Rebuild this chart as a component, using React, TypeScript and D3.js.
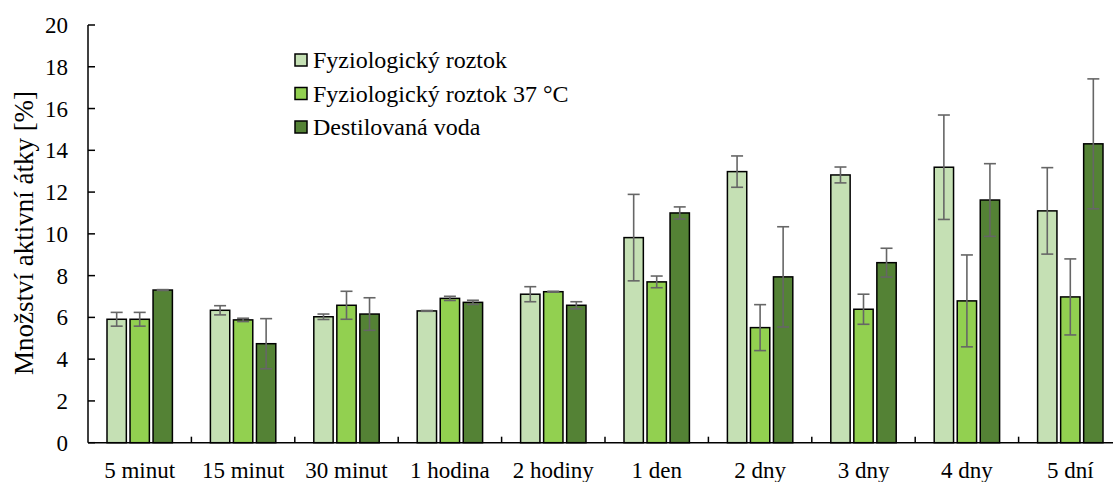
import React from "react";
import * as d3 from "d3";

const categories = ["5 minut", "15 minut", "30 minut", "1 hodina", "2 hodiny", "1 den", "2 dny", "3 dny", "4 dny", "5 dní"];
const seriesNames = ["Fyziologický roztok", "Fyziologický roztok 37 °C", "Destilovaná voda"];
const seriesColors = ["#c5e0b4", "#92d050", "#548235"];
const fyzValues = [5.91, 6.34, 6.03, 6.31, 7.11, 9.82, 12.98, 12.82, 13.19, 11.1];
const fyzErrors = [0.33, 0.22, 0.13, 0.02, 0.36, 2.07, 0.75, 0.38, 2.5, 2.07];
const fyz37Values = [5.91, 5.88, 6.58, 6.91, 7.23, 7.7, 5.51, 6.39, 6.79, 6.98];
const fyz37Errors = [0.33, 0.08, 0.67, 0.1, 0.02, 0.28, 1.1, 0.72, 2.2, 1.82];
const vodaValues = [7.31, 4.74, 6.16, 6.72, 6.58, 11.0, 7.94, 8.62, 11.62, 14.31];
const vodaErrors = [0.02, 1.2, 0.78, 0.1, 0.17, 0.29, 2.4, 0.69, 1.74, 3.11];
const yTicks = [0, 2, 4, 6, 8, 10, 12, 14, 16, 18, 20];

const W = 1113;
const H = 482;
const left = 88;
const bandW = 103.4;
const top = 25;
const bottom = 442.7;

const textStyle = { fontFamily: '"Liberation Serif", "Times New Roman", "DejaVu Serif", serif' };

export default function App() {
  const values = [fyzValues, fyz37Values, vodaValues];
  const errors = [fyzErrors, fyz37Errors, vodaErrors];
  const x = d3.scaleBand<string>().domain(categories).range([left, left + bandW * categories.length]).paddingInner(0).paddingOuter(0);
  const y = d3.scaleLinear().domain([0, 20]).range([bottom, top]);
  const inner = d3.scaleBand<number>().domain([0, 1, 2]).range([19, bandW - 19]).paddingInner(0.16).paddingOuter(0);
  const bw = inner.bandwidth();

  return (
    <svg width={W} height={H} style={{ position: "absolute", left: 0, top: 0, background: "#fff" }}>
      {categories.map((c, i) => (
        <g key={c}>
          {values.map((vals, s) => {
            const bx = (x(c) as number) + (inner(s) as number);
            return (
              <rect key={s} x={bx} y={y(vals[i])} width={bw} height={y(0) - y(vals[i])}
                fill={seriesColors[s]} stroke="#000" strokeWidth={1.5} />
            );
          })}
        </g>
      ))}
      {categories.map((c, i) => (
        <g key={"e" + c}>
          {values.map((vals, s) => {
            const cx = (x(c) as number) + (inner(s) as number) + bw / 2;
            const hi = y(vals[i] + errors[s][i]);
            const lo = y(vals[i] - errors[s][i]);
            return (
              <g key={s} stroke="#666" strokeWidth={1.6}>
                <line x1={cx} x2={cx} y1={hi} y2={lo} />
                <line x1={cx - 6} x2={cx + 6} y1={hi} y2={hi} />
                <line x1={cx - 6} x2={cx + 6} y1={lo} y2={lo} />
              </g>
            );
          })}
        </g>
      ))}
      <line x1={left} x2={left} y1={top} y2={bottom} stroke="#000" strokeWidth={1.5} />
      {yTicks.map((t) => (
        <g key={t}>
          <line x1={left} x2={left + 7} y1={y(t)} y2={y(t)} stroke="#000" strokeWidth={1.5} />
          <text x={68} y={y(t)} dy="0.35em" textAnchor="end" fontSize={23} fill="#000" style={textStyle}>{t}</text>
        </g>
      ))}
      <line x1={left} x2={W} y1={bottom} y2={bottom} stroke="#000" strokeWidth={1.5} />
      {categories.map((c, i) => (
        <g key={"x" + c}>
          {i > 0 && <line x1={x(c)} x2={x(c)} y1={bottom} y2={bottom - 6} stroke="#000" strokeWidth={1.5} />}
          <text x={(x(c) as number) + bandW / 2} y={478} textAnchor="middle" fontSize={23} fill="#000" style={textStyle}>{c}</text>
        </g>
      ))}
      <text transform={`translate(33, 233) rotate(-90)`} textAnchor="middle" fontSize={27} fill="#000" style={textStyle}>
        Množství aktivní átky [%]
      </text>
      {seriesNames.map((n, s) => (
        <g key={n} transform={`translate(295, ${60 + s * 33.5})`}>
          <rect x={0} y={-6} width={12} height={12} fill={seriesColors[s]} stroke="#000" strokeWidth={1.5} />
          <text x={18} y={0} dy="0.35em" fontSize={24} fill="#000" style={textStyle}>{n}</text>
        </g>
      ))}
    </svg>
  );
}
